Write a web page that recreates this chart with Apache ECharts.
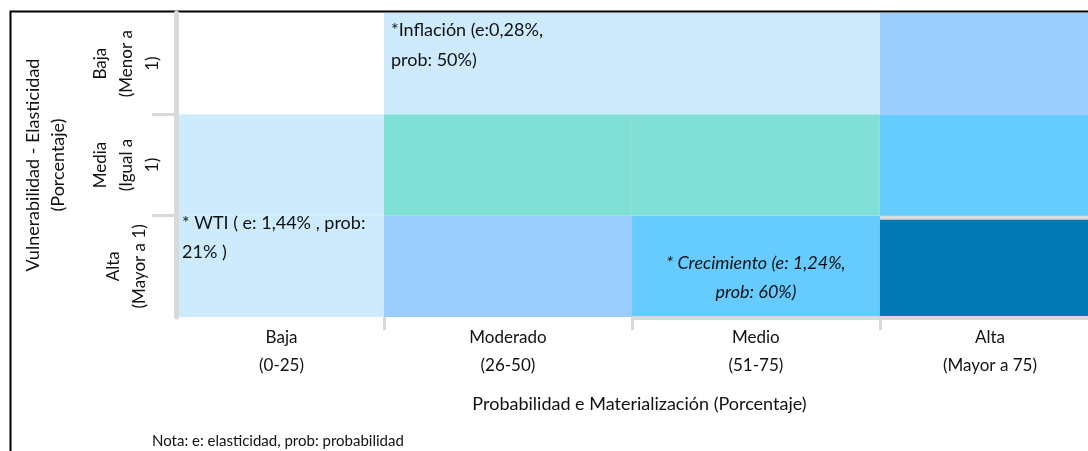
<!DOCTYPE html>
<html>
<head>
<meta charset="utf-8">
<title>Mapa de riesgos</title>
<script src="https://cdn.jsdelivr.net/npm/echarts@6.0.0/dist/echarts.min.js"></script>
<style>
  html, body { margin: 0; padding: 0; background: #fff; }
  #chart { width: 1088px; height: 451px; }
</style>
</head>
<body>
<div id="chart"></div>
<script>
// eje x: probabilidad de materialización
var probCategories = ['Baja\n(0-25)', 'Moderado\n(26-50)', 'Medio\n(51-75)', 'Alta\n(Mayor a 75)'];
var probRanges = [[0, 25], [25, 50], [50, 75], [75, 100]];
// eje y: vulnerabilidad, de abajo hacia arriba
var vulnCategories = ['Alta\n(Mayor a 1)', 'Media\n(Igual a\n1)', 'Baja\n(Menor a\n1)'];
// nivel de riesgo por celda (una lista por fila)
var riskAlta = [1, 2, 4, 5];
var riskMedia = [1, 3, 3, 4];
var riskBaja = [0, 1, 1, 2];
// notas dentro de las celdas
var noteTexts = ['*Inflación (e:0,28%,\nprob: 50%)', '* WTI ( e: 1,44% , prob:\n21% )', '* Crecimiento (e: 1,24%,\nprob: 60%)'];
var noteCols = [1, 0, 2];
var noteRows = [2, 0, 0];
var notaText = 'Nota: e: elasticidad, prob: probabilidad';

var levelColors = ['#ffffff', '#cdebfd', '#99ccff', '#80e0d5', '#66ccff', '#0078b4'];
var xMin = 4.33, xMax = 97.2;
var font = 'Lato, "Noto Sans", sans-serif';

var cellData = [];
[riskAlta, riskMedia, riskBaja].forEach(function(row, r) {
    row.forEach(function(lvl, c) {
        cellData.push([c, r, lvl]);
    });
});
var noteData = noteTexts.map(function(t, i) {
    return [noteCols[i], noteRows[i], i];
});

// centro de la parte visible de cada columna
var labelCenters = probRanges.map(function(rg) {
    return (Math.max(rg[0], xMin) + Math.min(rg[1], xMax)) / 2;
});

var noteLayout = [
    { align: 'left', verticalAlign: 'top', dx: 7, dy: 2, lineHeight: 30, italic: false, size: 18 },
    { align: 'left', verticalAlign: 'top', dx: 3, dy: -7, lineHeight: 29, italic: false, size: 18 },
    { align: 'center', verticalAlign: 'bottom', dx: 0, dy: -10, lineHeight: 29, italic: true, size: 18 }
];

function renderCell(params, api) {
    var c = api.value(0), r = api.value(1), lvl = api.value(2);
    var rg = probRanges[c];
    var p0 = api.coord([rg[0], r]);
    var p1 = api.coord([rg[1], r + 1]);
    var rect = echarts.graphic.clipRectByRect({
        x: p0[0], y: p1[1], width: p1[0] - p0[0], height: p0[1] - p1[1]
    }, params.coordSys);
    if (!rect) return;
    var children = [{ type: 'rect', shape: rect, style: { fill: levelColors[lvl] } }];
    // líneas grises que deja la plantilla original
    if (lvl === 5) {
        children.push({ type: 'rect', shape: { x: rect.x, y: rect.y - 1, width: rect.width, height: 5 }, style: { fill: '#d9d9d9' } });
    }
    if (r === 0 && c >= 2) {
        children.push({ type: 'rect', shape: { x: rect.x, y: rect.y + rect.height - 1, width: rect.width, height: 4 }, style: { fill: '#d9d9d9' } });
    }
    return { type: 'group', children: children };
}

function renderNote(params, api) {
    var i = api.value(2), r = api.value(1);
    var rg = probRanges[api.value(0)];
    var lt = api.coord([Math.max(rg[0], xMin), r + 1]);
    var rb = api.coord([Math.min(rg[1], xMax), r]);
    var lay = noteLayout[i];
    var x = lay.align === 'center' ? (lt[0] + rb[0]) / 2 : lt[0] + lay.dx;
    var y = lay.verticalAlign === 'bottom' ? rb[1] + lay.dy : lt[1] + lay.dy;
    return {
        type: 'text',
        style: {
            x: x, y: y,
            text: noteTexts[i],
            fill: '#111',
            fontFamily: font,
            fontSize: lay.size,
            fontStyle: lay.italic ? 'italic' : 'normal',
            align: lay.align,
            verticalAlign: lay.verticalAlign,
            lineHeight: lay.lineHeight
        }
    };
}

var myChart = echarts.init(document.getElementById('chart'));
var option = {
    animation: false,
    textStyle: { fontFamily: font },
    graphic: [{
        type: 'rect', silent: true,
        shape: { x: 10.5, y: 11.5, width: 1200, height: 600 },
        style: { fill: 'none', stroke: '#000', lineWidth: 2 }
    }],
    title: {
        text: notaText, left: 147, top: 429,
        textStyle: { fontSize: 15, fontWeight: 'normal', color: '#111', fontFamily: font }
    },
    grid: { left: 179, right: -12, top: 13, bottom: 134, outerBoundsMode: 'none' },
    xAxis: {
        type: 'value', min: xMin, max: xMax,
        splitLine: { show: false },
        axisLine: { show: false },
        axisTick: { show: true, customValues: [25, 50, 75], length: 13, lineStyle: { color: '#d9d9d9', width: 3 } },
        axisLabel: {
            customValues: labelCenters,
            formatter: function(v) {
                for (var i = 0; i < probRanges.length; i++) {
                    if (v >= probRanges[i][0] && v < probRanges[i][1]) return probCategories[i];
                }
                return '';
            },
            margin: 7, fontSize: 17, lineHeight: 28, color: '#111'
        },
        name: 'Probabilidad e Materialización (Porcentaje)',
        nameLocation: 'middle', nameGap: 76, nameMoveOverlap: false,
        nameTextStyle: { fontSize: 18, lineHeight: 22, color: '#111' }
    },
    yAxis: {
        type: 'value', min: 0, max: 3, offset: 3,
        splitLine: { show: false },
        axisLine: { show: true, lineStyle: { color: '#d9d9d9', width: 5 } },
        axisTick: { show: true, customValues: [1, 2], length: 24, lineStyle: { color: '#d9d9d9', width: 3 } },
        axisLabel: {
            customValues: [0.5, 1.5, 2.5],
            formatter: function(v) { return vulnCategories[Math.floor(v)]; },
            rotate: 90, align: 'center', verticalAlign: 'middle',
            margin: 49, fontSize: 17, lineHeight: 26, color: '#111'
        },
        name: 'Vulnerabilidad - Elasticidad\n(Porcentaje)',
        nameLocation: 'middle', nameRotate: 90, nameGap: 130, nameMoveOverlap: false,
        nameTextStyle: { fontSize: 18, lineHeight: 25, verticalAlign: 'middle', color: '#111' }
    },
    series: [{
        type: 'custom', name: 'celdas',
        renderItem: renderCell,
        data: cellData,
        z: 1
    }, {
        type: 'custom', name: 'notas',
        renderItem: renderNote,
        data: noteData,
        z: 3
    }]
};
myChart.setOption(option);
</script>
</body>
</html>
